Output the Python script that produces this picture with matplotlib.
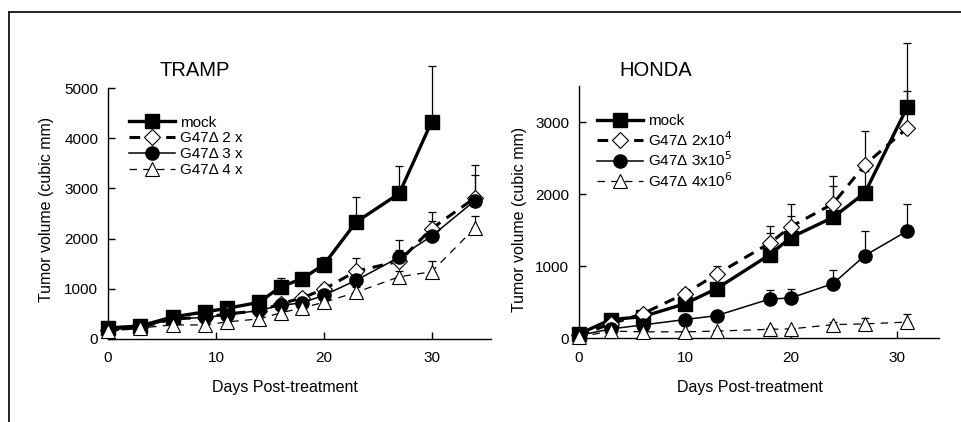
import matplotlib.pyplot as plt
import matplotlib.lines as mlines

plt.rcParams['font.family'] = ['Liberation Sans', 'DejaVu Sans']

# TRAMP data
tramp_days_mock = [0, 3, 6, 9, 11, 14, 16, 18, 20, 23, 27, 30]
tramp_mock = [220, 260, 440, 540, 610, 730, 1040, 1200, 1480, 2330, 2900, 4330]
tramp_mock_err = [30, 40, 50, 60, 60, 80, 180, 120, 155, 500, 550, 1110]

tramp_days = [0, 3, 6, 9, 11, 14, 16, 18, 20, 23, 27, 30, 34]
tramp_2x = [170, 230, 400, 430, 500, 560, 700, 820, 990, 1350, 1550, 2200, 2810]
tramp_2x_err = [20, 30, 40, 40, 50, 60, 80, 100, 110, 270, 230, 330, 460]
tramp_3x = [180, 230, 400, 430, 480, 570, 670, 720, 870, 1170, 1630, 2050, 2755]
tramp_3x_err = [20, 30, 40, 40, 50, 60, 70, 80, 100, 150, 350, 300, 720]
tramp_4x = [150, 220, 280, 280, 340, 400, 520, 620, 730, 930, 1240, 1340, 2210]
tramp_4x_err = [20, 20, 30, 30, 40, 50, 60, 70, 80, 100, 120, 210, 250]

# HONDA data
honda_days = [0, 3, 6, 10, 13, 18, 20, 24, 27, 31]
honda_mock = [60, 260, 300, 480, 690, 1160, 1400, 1680, 2020, 3210]
honda_mock_err = [10, 30, 40, 60, 80, 300, 300, 430, 300, 890]
honda_2e4 = [40, 200, 340, 620, 890, 1320, 1550, 1870, 2410, 2920]
honda_2e4_err = [10, 20, 30, 60, 110, 240, 310, 390, 470, 510]
honda_3e5 = [40, 130, 185, 260, 315, 545, 560, 760, 1150, 1490]
honda_3e5_err = [10, 20, 20, 30, 40, 120, 120, 190, 340, 370]
honda_4e6 = [20, 100, 90, 90, 100, 125, 130, 190, 200, 225]
honda_4e6_err = [5, 10, 10, 10, 15, 20, 20, 40, 80, 110]

styles = [
    dict(color='black', lw=2.4, ls='-', marker='s', ms=10, mfc='black', mec='black'),
    dict(color='black', lw=2.2, ls=(0, (3.5, 2.5)), marker='D', ms=8.5, mfc='white', mec='black', mew=0.8),
    dict(color='black', lw=1.1, ls='-', marker='o', ms=9.5, mfc='black', mec='black'),
    dict(color='black', lw=0.9, ls=(0, (6, 5)), marker='^', ms=10.5, mfc='white', mec='black', mew=0.8),
]

fig = plt.figure(figsize=(9.62, 4.22), dpi=100)

# outer frame lines (top and left)
fig.add_artist(mlines.Line2D([9 / 962, 1], [1 - 12 / 422, 1 - 12 / 422], color='black', lw=1.2))
fig.add_artist(mlines.Line2D([9 / 962, 9 / 962], [0, 1 - 12 / 422], color='black', lw=1.2))


def draw(ax, series, labels, legend_pos):
    handles = []
    for (x, y, e), st, lab in zip(series, styles, labels):
        ax.errorbar(x, y, yerr=[[0] * len(e), e], fmt='none', ecolor='black',
                    elinewidth=0.9, capsize=3, capthick=0.9, clip_on=False, zorder=2)
    for (x, y, e), st, lab in zip(series, styles, labels):
        h, = ax.plot(x, y, label=lab, clip_on=False, zorder=3, **st)
        handles.append(h)
    for s in ['top', 'right']:
        ax.spines[s].set_visible(False)
    ax.spines['left'].set_linewidth(1.0)
    ax.spines['bottom'].set_linewidth(1.0)
    ax.tick_params(direction='in', length=5, width=1.0, labelsize=11)
    ax.tick_params(axis='x', pad=9)
    ax.tick_params(axis='y', pad=7)
    ax.set_xlabel('Days Post-treatment', fontsize=11.5)
    ax.set_ylabel('Tumor volume (cubic mm)', fontsize=11.5)
    ax.legend(handles=handles, loc='upper left', bbox_to_anchor=legend_pos, frameon=False,
              fontsize=11, handlelength=3.0, handletextpad=0.35, labelspacing=0.12,
              borderaxespad=0, borderpad=0)


# left panel
ax1 = fig.add_axes([108 / 962, 1 - 339 / 422, 383 / 962, 251 / 422])
draw(ax1,
     [(tramp_days_mock, tramp_mock, tramp_mock_err),
      (tramp_days, tramp_2x, tramp_2x_err),
      (tramp_days, tramp_3x, tramp_3x_err),
      (tramp_days, tramp_4x, tramp_4x_err)],
     ['mock', 'G47Δ 2 x', 'G47Δ 3 x', 'G47Δ 4 x'],
     (0.055, 0.89))
ax1.set_xlim(0, 35.5)
ax1.set_ylim(0, 5000)
ax1.set_xticks([0, 10, 20, 30])
ax1.set_yticks([0, 1000, 2000, 3000, 4000, 5000])
ax1.xaxis.set_label_coords(0.462, -0.165)
ax1.yaxis.set_label_coords(-0.14, 0.515)
fig.text(195 / 962, 1 - 70 / 422, 'TRAMP', ha='center', va='center', fontsize=14.5)

# right panel
ax2 = fig.add_axes([579 / 962, 1 - 338.3 / 422, 360 / 962, 252 / 422])
draw(ax2,
     [(honda_days, honda_mock, honda_mock_err),
      (honda_days, honda_2e4, honda_2e4_err),
      (honda_days, honda_3e5, honda_3e5_err),
      (honda_days, honda_4e6, honda_4e6_err)],
     ['mock', 'G47Δ 2x10$^4$', 'G47Δ 3x10$^5$', 'G47Δ 4x10$^6$'],
     (0.05, 0.89))
ax2.set_xlim(0, 34)
ax2.set_ylim(0, 3500)
ax2.set_xticks([0, 10, 20, 30])
ax2.set_yticks([0, 1000, 2000, 3000])
ax2.xaxis.set_label_coords(0.475, -0.165)
ax2.yaxis.set_label_coords(-0.145, 0.47)
fig.text(656 / 962, 1 - 70 / 422, 'HONDA', ha='center', va='center', fontsize=14.5)

fig.savefig('out.png', dpi=100)
